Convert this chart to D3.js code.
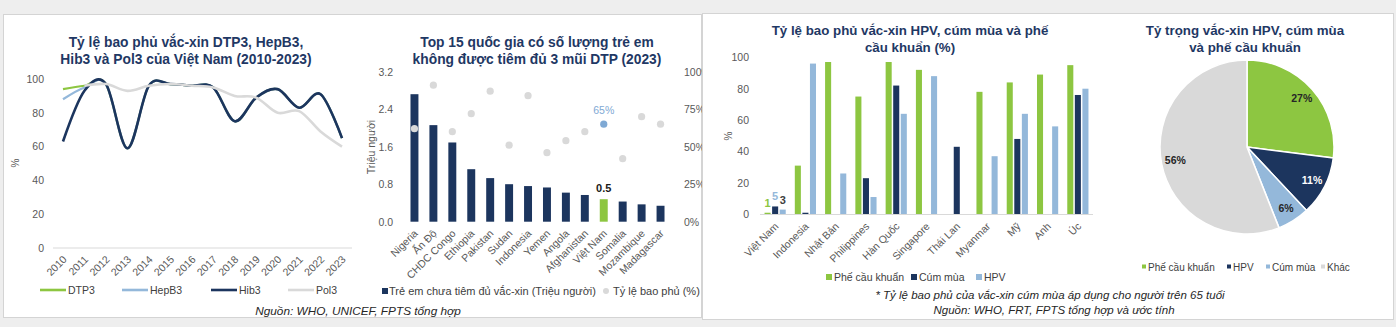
<!DOCTYPE html>
<html>
<head>
<meta charset="utf-8">
<script src="https://cdn.jsdelivr.net/npm/d3@7"></script>
<style>
  body { margin: 0; background: #eeeeee; }
  svg { display: block; font-family: "Liberation Sans", Arial, sans-serif; }
  .tick text { fill: #595959; }
</style>
</head>
<body>
<svg id="chart" width="1396" height="327"></svg>
<script>
// ---- data ----
var years = [2010, 2011, 2012, 2013, 2014, 2015, 2016, 2017, 2018, 2019, 2020, 2021, 2022, 2023];
var dtp3  = [94, 96, 97, 59, 96, 97, 96, 95, 75, 89, 94, 83, 91, 65];
var hepb3 = [88, 95, 97, 59, 96, 97, 96, 95, 75, 89, 94, 83, 91, 65];
var hib3  = [63, 93, 97, 59, 96, 97, 96, 95, 75, 89, 94, 83, 91, 65];
var pol3  = [null, 96, 97, 93, 96, 97, 96, 95, 90, 89, 80, 81, 69, 60];
var lineNames = ["DTP3", "HepB3", "Hib3", "Pol3"];

var topCountries = ["Nigeria", "Ấn Độ", "CHDC Congo", "Ethiopia", "Pakistan", "Sudan", "Indonesia",
  "Yemen", "Angola", "Afghanistan", "Việt Nam", "Somalia", "Mozambique", "Madagascar"];
var unvaccinated = [2.72, 2.06, 1.69, 1.12, 0.93, 0.80, 0.76, 0.73, 0.62, 0.57, 0.48, 0.43, 0.37, 0.34];
var coverage = [0.62, 0.91, 0.60, 0.72, 0.87, 0.51, 0.84, 0.46, 0.54, 0.60, 0.65, 0.42, 0.70, 0.65];
var leftTicks = [0, 0.8, 1.6, 2.4, 3.2];
var rightTicks = [0, 0.25, 0.5, 0.75, 1];

var asiaCountries = ["Việt Nam", "Indonesia", "Nhật Bản", "Philippines", "Hàn Quốc", "Singapore",
  "Thái Lan", "Myanmar", "Mỹ", "Anh", "Úc"];
var pneumo = [1, 31, 97, 75, 97, 92, 0, 78, 84, 89, 95];
var flu    = [5, 1, 0, 23, 82, 0, 43, 0, 48, 0, 76];
var hpv    = [3, 96, 26, 11, 64, 88, 0, 37, 64, 56, 80];
var groupNames = ["Phế cầu khuẩn", "Cúm mùa", "HPV"];

var pieNames = ["Phế cầu khuẩn", "HPV", "Cúm mùa", "Khác"];
var pieShares = [27, 11, 6, 56];

var NAVY = "#1c355e", GREEN = "#8dc641", BLUE = "#94b8da", GREY = "#d9d9d9", TITLE = "#1f3864";

var svg = d3.select("#chart");

var translate = function (x, y) {
  return "translate(" + x + "," + y + ")";
};

var title = function (lines, cx, y, size) {
  var t = svg.append("text").attr("text-anchor", "middle")
    .attr("font-size", size).attr("font-weight", "bold").attr("fill", TITLE);
  lines.forEach(function (l, i) {
    t.append("tspan").attr("x", cx).attr("y", y + i * 16.5).text(l);
  });
};

var panel = function (x, y, w, h) {
  svg.append("rect").attr("x", x + 0.5).attr("y", y + 0.5).attr("width", w).attr("height", h)
    .attr("fill", "#ffffff").attr("stroke", "#d4d4d4");
};

var cleanAxis = function (g) {
  g.select(".domain").remove();
  g.selectAll(".tick line").remove();
  g.selectAll(".tick text").attr("font-size", 10.5).attr("font-family", null);
};

// ---- chart 1: lines ----
var drawLines = function () {
  title(["Tỷ lệ bao phủ vắc-xin DTP3, HepB3,", "Hib3 và Pol3 của Việt Nam (2010-2023)"], 186, 47, 13.8);

  var x = d3.scalePoint().domain(years).range([63, 342]);
  var y = d3.scaleLinear().domain([0, 100]).range([248, 79]);

  svg.append("line").attr("x1", 53).attr("x2", 352).attr("y1", 248).attr("y2", 248)
    .attr("stroke", GREY);

  svg.append("g").attr("transform", translate(47, 0))
    .call(d3.axisLeft(y).tickValues([0, 20, 40, 60, 80, 100]).tickSize(0))
    .call(cleanAxis);

  svg.append("g").attr("transform", translate(0, 252))
    .call(d3.axisBottom(x).tickSize(0))
    .call(cleanAxis)
    .selectAll(".tick text")
    .attr("text-anchor", "end").attr("dy", null).attr("y", 0)
    .attr("transform", "translate(4,8) rotate(-45)");

  svg.append("text").attr("transform", translate(19, 163) + " rotate(-90)")
    .attr("text-anchor", "middle").attr("font-size", 10).attr("fill", "#595959").text("%");

  var series = [
    { name: "DTP3", values: dtp3, color: GREEN, w: 2.2 },
    { name: "HepB3", values: hepb3, color: BLUE, w: 2.2 },
    { name: "Hib3", values: hib3, color: NAVY, w: 2.6 },
    { name: "Pol3", values: pol3, color: GREY, w: 2.6 }
  ];
  var line = d3.line()
    .defined(function (d) { return d !== null; })
    .x(function (d, i) { return x(years[i]); })
    .y(function (d) { return y(d); })
    .curve(d3.curveCardinal.tension(0));

  series.forEach(function (s) {
    svg.append("path").attr("d", line(s.values)).attr("fill", "none")
      .attr("stroke", s.color).attr("stroke-width", s.w);
  });

  var legX = [40, 122, 211, 288];
  series.forEach(function (s, i) {
    svg.append("line").attr("x1", legX[i]).attr("x2", legX[i] + 26).attr("y1", 290).attr("y2", 290)
      .attr("stroke", s.color).attr("stroke-width", 2.6);
    svg.append("text").attr("x", legX[i] + 28).attr("y", 294).attr("font-size", 10.5)
      .attr("fill", "#404040").text(lineNames[i]);
  });
};

// ---- chart 2: bars + dots ----
var drawTop = function () {
  title(["Top 15 quốc gia có số lượng trẻ em", "không được tiêm đủ 3 mũi DTP (2023)"], 537, 47, 13.8);

  var x = d3.scaleBand().domain(topCountries).range([405, 670]).paddingInner(0.58).paddingOuter(0.29);
  var y = d3.scaleLinear().domain([0, 3.2]).range([221.7, 71.7]);
  var y2 = d3.scaleLinear().domain([0, 1]).range([221.7, 71.7]);

  svg.append("g").attr("transform", translate(396, 0))
    .call(d3.axisLeft(y).tickValues(leftTicks).tickFormat(d3.format(".1f")).tickSize(0))
    .call(cleanAxis);
  svg.append("g").attr("transform", translate(681, 0))
    .call(d3.axisRight(y2).tickValues(rightTicks).tickFormat(d3.format(".0%")).tickSize(0))
    .call(cleanAxis);

  svg.append("text").attr("transform", translate(375, 147) + " rotate(-90)")
    .attr("text-anchor", "middle").attr("font-size", 10.5).attr("fill", "#595959").text("Triệu người");

  svg.append("g").selectAll("rect").data(topCountries).enter().append("rect")
    .attr("x", function (d) { return x(d); })
    .attr("width", x.bandwidth())
    .attr("y", function (d, i) { return y(unvaccinated[i]); })
    .attr("height", function (d, i) { return y(0) - y(unvaccinated[i]); })
    .attr("fill", function (d) { return d === "Việt Nam" ? GREEN : NAVY; });

  svg.append("g").selectAll("circle").data(topCountries).enter().append("circle")
    .attr("cx", function (d) { return x(d) + x.bandwidth() / 2; })
    .attr("cy", function (d, i) { return y2(coverage[i]); })
    .attr("r", 3.6)
    .attr("fill", function (d) { return d === "Việt Nam" ? "#7fa9d4" : GREY; });

  var vi = topCountries.indexOf("Việt Nam");
  var vx = x("Việt Nam") + x.bandwidth() / 2;
  svg.append("text").attr("x", vx).attr("y", y(unvaccinated[vi]) - 7).attr("text-anchor", "middle")
    .attr("font-size", 11).attr("font-weight", "bold").attr("fill", "#1a1a1a")
    .text(d3.format(".1f")(unvaccinated[vi]));
  svg.append("text").attr("x", vx).attr("y", y2(coverage[vi]) - 10).attr("text-anchor", "middle")
    .attr("font-size", 10.5).attr("fill", "#7fa9d4").text(d3.format(".0%")(coverage[vi]));

  svg.append("g").attr("transform", translate(0, 226))
    .call(d3.axisBottom(x).tickSize(0))
    .call(cleanAxis)
    .selectAll(".tick text")
    .attr("text-anchor", "end").attr("dy", null).attr("y", 0)
    .attr("transform", "translate(4,8) rotate(-45)");

  svg.append("rect").attr("x", 382).attr("y", 288).attr("width", 6).attr("height", 6).attr("fill", NAVY);
  svg.append("text").attr("x", 389).attr("y", 295).attr("font-size", 11).attr("fill", "#404040")
    .text("Trẻ em chưa tiêm đủ vắc-xin (Triệu người)");
  svg.append("circle").attr("cx", 606).attr("cy", 291).attr("r", 3).attr("fill", GREY);
  svg.append("text").attr("x", 613).attr("y", 295).attr("font-size", 11).attr("fill", "#404040")
    .text("Tỷ lệ bao phủ (%)");

  svg.append("text").attr("x", 358).attr("y", 315).attr("text-anchor", "middle")
    .attr("font-size", 11.8).attr("font-style", "italic").attr("fill", "#262626")
    .text("Nguồn: WHO, UNICEF, FPTS tổng hợp");
};

// ---- chart 3: grouped bars ----
var drawGroups = function () {
  title(["Tỷ lệ bao phủ vắc-xin HPV, cúm mùa và phế", "cầu khuẩn (%)"], 910, 35, 13.3);

  var x = d3.scaleBand().domain(asiaCountries).range([760, 1093]).paddingInner(0.3).paddingOuter(0.15);
  var x1 = d3.scaleBand().domain(groupNames).range([0, x.bandwidth()]).paddingInner(0.2);
  var y = d3.scaleLinear().domain([0, 100]).range([214.3, 57.3]);
  var colors = d3.scaleOrdinal().domain(groupNames).range([GREEN, NAVY, BLUE]);
  var values = { "Phế cầu khuẩn": pneumo, "Cúm mùa": flu, "HPV": hpv };

  svg.append("g").attr("transform", translate(752, 0))
    .call(d3.axisLeft(y).tickValues([0, 20, 40, 60, 80, 100]).tickSize(0))
    .call(cleanAxis);
  svg.append("text").attr("transform", translate(732, 136) + " rotate(-90)")
    .attr("text-anchor", "middle").attr("font-size", 10).attr("fill", "#595959").text("%");

  var groups = svg.append("g").selectAll("g").data(asiaCountries).enter().append("g")
    .attr("transform", function (d) { return translate(x(d), 0); });
  groupNames.forEach(function (k) {
    groups.append("rect")
      .attr("x", x1(k)).attr("width", x1.bandwidth())
      .attr("y", function (d, i) { return y(values[k][i]); })
      .attr("height", function (d, i) { return y(0) - y(values[k][i]); })
      .attr("fill", colors(k));
  });

  svg.append("line").attr("x1", 760).attr("x2", 1093).attr("y1", 214.5).attr("y2", 214.5)
    .attr("stroke", GREY);

  // labels for Việt Nam
  var labelColors = [GREEN, BLUE, "#404040"];
  groupNames.forEach(function (k, j) {
    svg.append("text")
      .attr("x", x("Việt Nam") + x1(k) + x1.bandwidth() / 2)
      .attr("y", y(values[k][0]) - 6)
      .attr("text-anchor", "middle").attr("font-size", 11).attr("font-weight", "bold")
      .attr("fill", labelColors[j]).text(values[k][0]);
  });

  svg.append("g").attr("transform", translate(0, 219))
    .call(d3.axisBottom(x).tickSize(0))
    .call(cleanAxis)
    .selectAll(".tick text")
    .attr("text-anchor", "end").attr("dy", null).attr("y", 0)
    .attr("transform", "translate(4,8) rotate(-45)");

  var legX = [826, 911, 976];
  groupNames.forEach(function (k, i) {
    svg.append("rect").attr("x", legX[i]).attr("y", 274).attr("width", 6).attr("height", 6)
      .attr("fill", colors(k));
    svg.append("text").attr("x", legX[i] + 8).attr("y", 281).attr("font-size", 10.5)
      .attr("fill", "#404040").text(k);
  });

  svg.append("text").attr("x", 1050).attr("y", 299).attr("text-anchor", "middle")
    .attr("font-size", 11.5).attr("font-style", "italic").attr("fill", "#262626")
    .text("* Tỷ lệ bao phủ của vắc-xin cúm mùa áp dụng cho người trên 65 tuổi");
  svg.append("text").attr("x", 1054).attr("y", 314).attr("text-anchor", "middle")
    .attr("font-size", 11.5).attr("font-style", "italic").attr("fill", "#262626")
    .text("Nguồn: WHO, FRT, FPTS tổng hợp và ước tính");
};

// ---- chart 4: pie ----
var drawPie = function () {
  title(["Tỷ trọng vắc-xin HPV, cúm mùa", "và phế cầu khuẩn"], 1245, 35, 13.3);

  var colors = d3.scaleOrdinal().domain(pieNames).range([GREEN, NAVY, BLUE, GREY]);
  var pie = d3.pie().sort(null).value(function (d) { return d; });
  var arc = d3.arc().innerRadius(0).outerRadius(87);
  var labelArc = d3.arc().innerRadius(73).outerRadius(73);
  var arcs = pie(pieShares);

  var g = svg.append("g").attr("transform", translate(1247, 147));
  g.selectAll("path").data(arcs).enter().append("path")
    .attr("d", arc)
    .attr("fill", function (d, i) { return colors(pieNames[i]); })
    .attr("stroke", "#ffffff").attr("stroke-width", 1.5);
  g.selectAll("text").data(arcs).enter().append("text")
    .attr("transform", function (d) { return "translate(" + labelArc.centroid(d) + ")"; })
    .attr("text-anchor", "middle").attr("dy", "0.35em")
    .attr("font-size", 10.5).attr("font-weight", "bold")
    .attr("fill", function (d, i) { return pieNames[i] === "HPV" ? "#ffffff" : "#262626"; })
    .text(function (d) { return d.data + "%"; });

  var legX = [1142, 1227, 1266, 1321];
  pieNames.forEach(function (k, i) {
    svg.append("rect").attr("x", legX[i]).attr("y", 264.5).attr("width", 4).attr("height", 4)
      .attr("fill", colors(k));
    svg.append("text").attr("x", legX[i] + 6).attr("y", 270.5).attr("font-size", 10)
      .attr("fill", "#404040").text(k);
  });
};

panel(3, 14, 698, 303);
drawLines();
drawTop();
panel(702, 13, 691, 306);
drawGroups();
drawPie();
</script>
</body>
</html>
